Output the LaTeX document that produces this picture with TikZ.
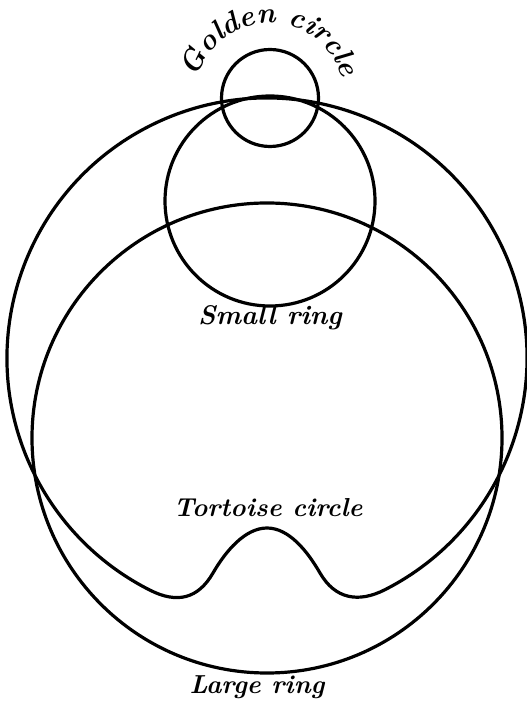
\documentclass[tikz,border=0pt]{standalone}
\usepackage{tikz}
\usetikzlibrary{decorations.text}
\newcommand{\handfont}{\fontsize{26}{28}\selectfont\bfseries\itshape}
\newcommand{\bighandfont}{\fontsize{29}{31}\selectfont\bfseries\itshape}
\tikzset{
  ring/.style={draw=black,line width=3.2pt,line join=round},
  lab/.style={font=\handfont,inner sep=0pt},
  arclab/.style={decorate,decoration={text along path,text align=center,
    text format delimiters={|}{|},text={#1}}}
}
\begin{document}
\begin{tikzpicture}[x=1pt,y=1pt]
    \useasboundingbox (0,0) rectangle (527,704);
    \coordinate (golden) at (270,606); \coordinate (small) at (270,503);
    \coordinate (tort) at (267,346); \coordinate (large) at (267,266);
    \coordinate (riseL) at (213,131); \coordinate (peak) at (267,176);
    \coordinate (riseR) at (320,131);
    % rings
    \draw[ring] (golden) circle[radius=48.5];
    \draw[ring] (small) circle[radius=105];
    \draw[ring] (large) circle[radius=235];
    % tortoise circle with its notch at the bottom
    \draw[ring] (tort) ++(297:260) coordinate (tortR)
      arc[start angle=297,end angle=603.3,radius=260] coordinate (tortL)
      .. controls +(333.3:30) and +(240:30) .. (riseL)
      .. controls +(60:25) and +(180:22) .. (peak)
      .. controls +(0:22) and +(120:25) .. (riseR)
      .. controls +(300:30) and +(207:30) .. (tortR);
    % labels
    \path[arclab={|\bighandfont|Golden circle}] (golden) ++(165:75) arc[start angle=165,end angle=15,radius=75];
    \node[lab,font=\fontsize{27}{29}\selectfont\bfseries\itshape] (smalllab) at (270,386) {Small ring};
    \node[lab] (tortlab) at (268,196) {Tortoise circle};
    \node[lab] (largelab) at (257,17) {Large ring};
  \end{tikzpicture}
\end{document}
